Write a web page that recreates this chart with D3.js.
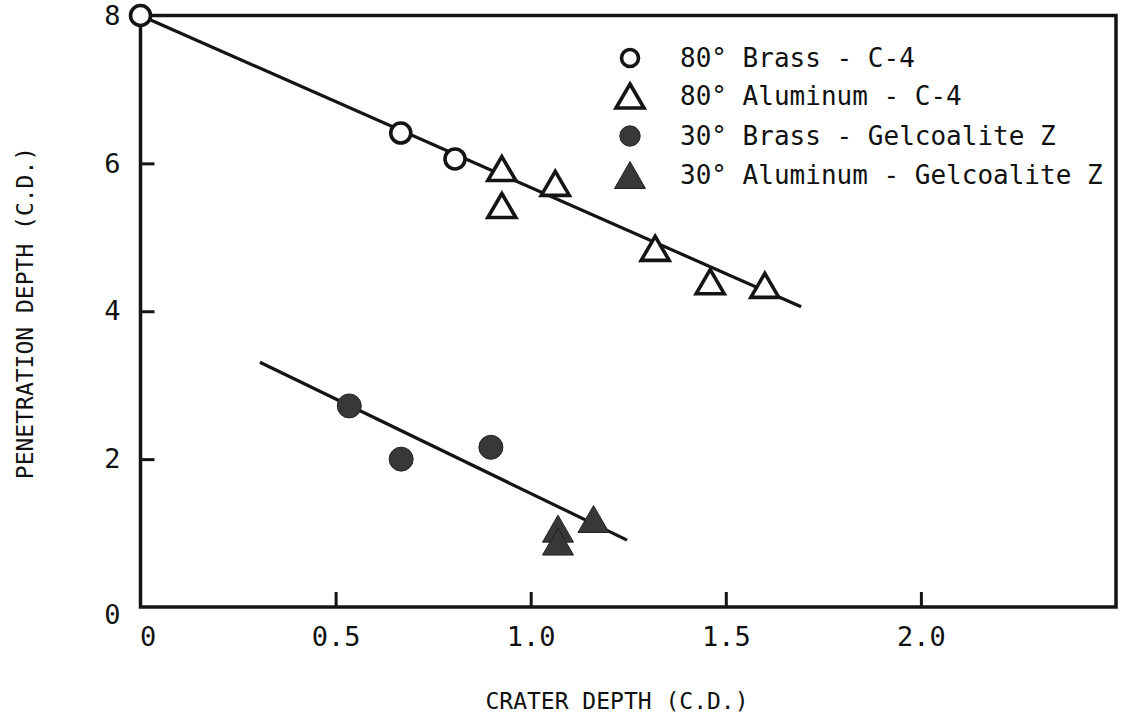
<!DOCTYPE html>
<html>
<head>
<meta charset="utf-8">
<script src="https://cdn.jsdelivr.net/npm/d3@7/dist/d3.min.js"></script>
<style>
  html, body { margin: 0; padding: 0; background: #fff; }
  svg { display: block; }
  text { font-family: "DejaVu Sans Mono", "Liberation Mono", monospace; fill: #111; }
</style>
</head>
<body>
<svg id="chart" width="1122" height="722"></svg>
<script>
// ---- data ----
const xTicks = [0, 0.5, 1.0, 1.5, 2.0];
const xTickLabels = ["0", "0.5", "1.0", "1.5", "2.0"];
const yTicks = [0, 2, 4, 6, 8];
const yTickLabels = ["0", "2", "4", "6", "8"];

const brass80X = [0, 0.667, 0.806];
const brass80Y = [8.0, 6.41, 6.06];
const alum80X = [0.926, 0.926, 1.063, 1.319, 1.46, 1.60];
const alum80Y = [5.93, 5.43, 5.73, 4.85, 4.40, 4.35];
const brass30X = [0.535, 0.668, 0.898];
const brass30Y = [2.72, 2.00, 2.16];
const alum30X = [1.07, 1.07, 1.161];
const alum30Y = [1.06, 0.885, 1.19];

const fit80X = [0, 1.693];
const fit80Y = [8.0, 4.06];
const fit30X = [0.306, 1.247];
const fit30Y = [3.31, 0.905];

const legendLabels = [
  "80\u00b0 Brass - C-4",
  "80\u00b0 Aluminum - C-4",
  "30\u00b0 Brass - Gelcoalite Z",
  "30\u00b0 Aluminum - Gelcoalite Z"
];
const legendKinds = ["openCircle", "openTri", "fillCircle", "fillTri"];

const xTitle = "CRATER DEPTH (C.D.)";
const yTitle = "PENETRATION DEPTH (C.D.)";

// ---- layout ----
const svg = d3.select("#chart");
const pLeft = 140.5, pRight = 1116, pTop = 15.5, pBottom = 607;
const x = d3.scaleLinear().domain([0, 2.5]).range([pLeft, pRight]);
const y = d3.scaleLinear().domain([0, 8]).range([pBottom, pTop]);
const ink = "#141414";
const fillInk = "#383838";

// frame
svg.append("rect")
  .attr("x", pLeft).attr("y", pTop)
  .attr("width", pRight - pLeft).attr("height", pBottom - pTop)
  .attr("fill", "none").attr("stroke", ink).attr("stroke-width", 3.5);

// x axis
const xAxis = svg.append("g").attr("transform", `translate(0,${pBottom})`)
  .call(d3.axisBottom(x).tickValues(xTicks)
    .tickFormat((d, i) => xTickLabels[i]).tickSize(-15).tickPadding(20));
xAxis.select(".domain").remove();
xAxis.selectAll(".tick line").attr("stroke", ink).attr("stroke-width", 3)
  .filter(d => d === 0).remove();
xAxis.selectAll(".tick text").attr("font-size", 27)
  .attr("font-family", "DejaVu Sans Mono").attr("fill", ink)
  .filter(d => d === 0).attr("dx", 7);

// y axis
const yAxis = svg.append("g").attr("transform", `translate(${pLeft},0)`)
  .call(d3.axisLeft(y).tickValues(yTicks)
    .tickFormat((d, i) => yTickLabels[i]).tickSize(-14).tickPadding(20));
yAxis.select(".domain").remove();
yAxis.selectAll(".tick line").attr("stroke", ink).attr("stroke-width", 3)
  .filter(d => d === 0 || d === 8).remove();
yAxis.selectAll(".tick text").attr("font-size", 27)
  .attr("font-family", "DejaVu Sans Mono").attr("fill", ink)
  .filter(d => d === 0).attr("dy", "0.6em");

// titles
svg.append("text").attr("x", 617).attr("y", 709)
  .attr("text-anchor", "middle").attr("font-size", 23).text(xTitle);
svg.append("text")
  .attr("transform", `translate(33,${313}) rotate(-90)`)
  .attr("text-anchor", "middle").attr("font-size", 23).text(yTitle);

// fit lines
const line = d3.line().x(d => x(d[0])).y(d => y(d[1]));
svg.append("path").datum(d3.zip(fit80X, fit80Y)).attr("d", line)
  .attr("fill", "none").attr("stroke", ink).attr("stroke-width", 3.2);
svg.append("path").datum(d3.zip(fit30X, fit30Y)).attr("d", line)
  .attr("fill", "none").attr("stroke", ink).attr("stroke-width", 3.2);

// marker helpers
const triW = 31, triH = 27;
function triPath(cx, cy, w, h) {
  return `M${cx},${cy - h / 2}L${cx + w / 2},${cy + h / 2}L${cx - w / 2},${cy + h / 2}Z`;
}
function drawMarker(g, kind, cx, cy, scale) {
  const s = scale || 1;
  if (kind === "openCircle") {
    g.append("circle").attr("cx", cx).attr("cy", cy).attr("r", 10 * s)
      .attr("fill", "#fff").attr("stroke", ink).attr("stroke-width", 3.6);
  } else if (kind === "fillCircle") {
    g.append("circle").attr("cx", cx).attr("cy", cy).attr("r", 12 * s)
      .attr("fill", fillInk).attr("stroke", "#222").attr("stroke-width", 1);
  } else if (kind === "openTri") {
    g.append("path").attr("d", triPath(cx, cy, (triW - 3) * s, (triH - 3) * s))
      .attr("fill", "#fff").attr("stroke", ink).attr("stroke-width", 3.6)
      .attr("stroke-linejoin", "miter");
  } else {
    g.append("path").attr("d", triPath(cx, cy, triW * s, triH * s))
      .attr("fill", fillInk).attr("stroke", "#222").attr("stroke-width", 1);
  }
}

const pts = svg.append("g");
d3.zip(brass80X, brass80Y).forEach(d => drawMarker(pts, "openCircle", x(d[0]), y(d[1])));
d3.zip(alum80X, alum80Y).forEach(d => drawMarker(pts, "openTri", x(d[0]), y(d[1])));
d3.zip(brass30X, brass30Y).forEach(d => drawMarker(pts, "fillCircle", x(d[0]), y(d[1])));
d3.zip(alum30X, alum30Y).forEach(d => drawMarker(pts, "fillTri", x(d[0]), y(d[1])));

// legend
const leg = svg.append("g");
const legRowY = [58, 96, 136, 175];
legendLabels.forEach((lab, i) => {
  drawMarker(leg, legendKinds[i], 630, legRowY[i], i % 2 === 0 ? 0.85 : 1);
  leg.append("text").attr("x", 680).attr("y", legRowY[i])
    .attr("dy", "0.36em").attr("font-size", 26).attr("fill", ink).text(lab);
});
</script>
</body>
</html>
